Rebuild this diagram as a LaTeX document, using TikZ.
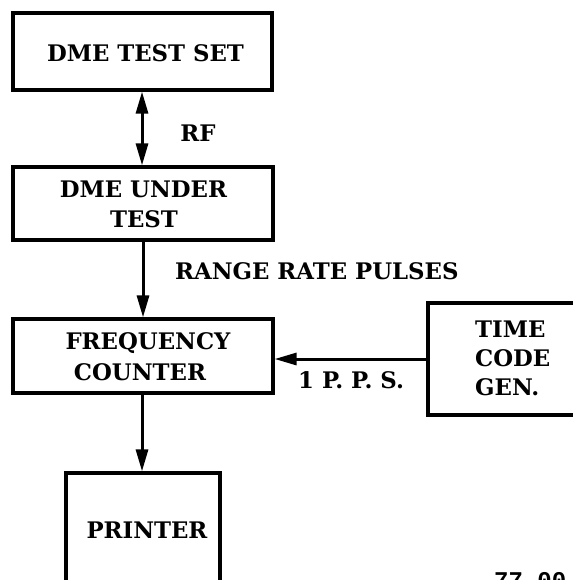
\documentclass[tikz,border=0pt]{standalone}
\usepackage{fontspec}
\setmainfont{DejaVu Serif}
\newfontfamily\numfont{Liberation Mono}
\usetikzlibrary{arrows.meta}
\begin{document}
\begin{tikzpicture}[x=1pt,y=-1pt,
  box/.style={draw, line width=3.2pt, inner sep=0pt},
  lbl/.style={font=\bfseries\fontsize{22.8}{26}\selectfont, inner sep=0pt, anchor=base},
  lblw/.style={lbl, anchor=base west},
  conn/.style={line width=3pt, -{Triangle[length=22pt,width=12pt]}},
  dconn/.style={line width=3pt, {Triangle[length=22pt,width=12pt]}-{Triangle[length=22pt,width=12pt]}},
]
\useasboundingbox (0,0) rectangle (572,580);
% boxes
\node[box, minimum width=259pt, minimum height=77pt] (b1) at (142.5,51.5) {};
\node[box, minimum width=260pt, minimum height=73pt] (b2) at (143,203.5) {};
\node[box, minimum width=260pt, minimum height=74pt] (fc) at (143,356) {};
\node[box, minimum width=162pt, minimum height=112pt] (tcg) at (509,359) {};
\node[box, minimum width=154pt, minimum height=112pt] (pr) at (143,529) {};
% texts
\node[lbl] (t1) at (145.5,62) {DME TEST SET};
\node[lbl] (t2a) at (143.5,197) {DME UNDER};
\node[lbl] (t2b) at (144,227) {TEST};
\node[lbl] (t3a) at (148,349) {FREQUENCY};
\node[lbl] (t3b) at (140,380) {COUNTER};
\node[lblw] (t4a) at (475,337) {TIME};
\node[lblw] (t4b) at (475,366) {CODE};
\node[lblw] (t4c) at (475,395) {GEN.};
\node[lbl] (t5) at (147,538) {PRINTER};
% connector labels
\node[lbl] (lrf) at (198,142) {RF};
\node[lblw] (lrr) at (175,279) {RANGE RATE PULSES};
\node[lblw] (lpps) at (298,388) {1 P. P. S.};
\node[anchor=north west, inner sep=0pt, font=\numfont\bfseries\fontsize{24}{24}\selectfont] (fig) at (494,572) {77-00-};
% connectors
\draw[dconn] (b1.south -| 142,0) -- (b2.north -| 142,0);
\draw[conn] (b2.south) -- (fc.north);
\draw[conn] (tcg.west) -- (tcg.west -| fc.east);
\draw[conn] (fc.south -| 142,0) -- (pr.north -| 142,0);
\end{tikzpicture}
\end{document}
